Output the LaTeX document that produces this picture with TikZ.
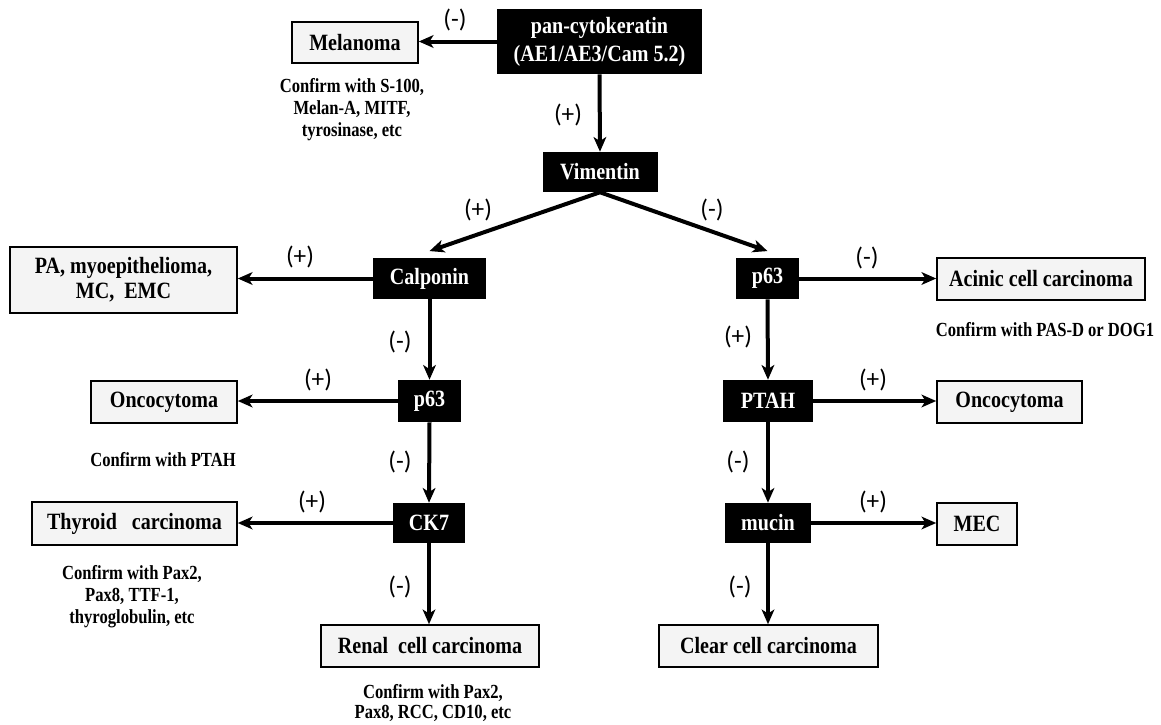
\documentclass[tikz,border=0pt]{standalone}
\usepackage{fontspec}
\setmainfont{Liberation Serif}
\newfontfamily\boxfont{Liberation Serif}[FakeStretch=0.86]
\newfontfamily\notefont{Liberation Serif}[FakeStretch=0.83]
\newfontfamily\signfont{Carlito}
\usetikzlibrary{arrows.meta}
\begin{document}
\begin{tikzpicture}[x=0.75pt,y=-0.75pt,
  sz/.style 2 args={minimum width=#1*0.75pt,minimum height=#2*0.75pt},
  blk/.style={fill=black,text=white,inner sep=0pt,align=center,
    font=\boxfont\bfseries\fontsize{17.5}{21}\selectfont},
  res/.style={draw=black,line width=1.2pt,fill=gray!9,inner sep=0pt,align=center,
    font=\boxfont\bfseries\fontsize{17.5}{19}\selectfont},
  note/.style={inner sep=0pt,align=center,
    font=\notefont\bfseries\fontsize{15}{16.5}\selectfont},
  sgn/.style={inner sep=0pt,font=\signfont\fontsize{19}{20}\selectfont},
  arr/.style={-{Stealth[length=11pt,width=9.5pt,inset=3pt]},line width=3pt}
]
\useasboundingbox (0,0) rectangle (1161,725);

% nodes
\node[blk,sz={205}{65}] (pck) at (599.5,41.5) {pan-cytokeratin\\(AE1/AE3/Cam 5.2)};
\node[res,sz={126}{41}] (mel) at (355,42.5) {Melanoma};
\node[note] (melc) at (352,110) {Confirm with S-100,\\Melan-A, MITF,\\tyrosinase, etc};
\node[blk,sz={115}{40}] (vim) at (600,172) {Vimentin};

\node[blk,sz={113}{41}] (cal) at (429.5,278.5) {Calponin};
\node[res,sz={227}{66}] (pa) at (123.5,280) {PA, myoepithelioma,\\MC,~ EMC};
\node[blk,sz={63}{42}] (p63l) at (429.5,401) {p63};
\node[res,sz={146}{42}] (oncl) at (164,402) {Oncocytoma};
\node[note] (onclc) at (163,460) {Confirm with PTAH};
\node[blk,sz={72}{40}] (ck7) at (429,523) {CK7};
\node[res,sz={205}{43}] (thy) at (134.5,523.5) {Thyroid~~ carcinoma};
\node[note] (thyc) at (132,597) {Confirm with Pax2,\\Pax8, TTF-1,\\thyroglobulin, etc};
\node[res,sz={218}{42}] (ren) at (430,646) {Renal~ cell carcinoma};
\node[note,font=\notefont\bfseries\fontsize{15}{15.5}\selectfont] (renc) at (433,703) {Confirm with Pax2,\\Pax8, RCC, CD10, etc};

\node[blk,sz={63}{41}] (p63r) at (767.5,278.5) {p63};
\node[res,sz={208}{42}] (aci) at (1041,279) {Acinic cell carcinoma};
\node[note] (acic) at (1045,330) {Confirm with PAS-D or DOG1};
\node[blk,sz={90}{42}] (ptah) at (768,401) {PTAH};
\node[res,sz={145}{42}] (oncr) at (1009.5,402) {Oncocytoma};
\node[blk,sz={86}{40}] (muc) at (768,523) {mucin};
\node[res,sz={80}{42}] (mec) at (977,524) {MEC};
\node[res,sz={219}{42}] (clr) at (768.5,646) {Clear cell carcinoma};

% sign labels
\node[sgn] (s1) at (455,20) {(-)};
\node[sgn] (s2) at (568,115) {(+)};
\node[sgn] (s3) at (478,210) {(+)};
\node[sgn] (s4) at (712,210) {(-)};
\node[sgn] (s5) at (300,257) {(+)};
\node[sgn] (s6) at (400,342) {(-)};
\node[sgn] (s7) at (318,380) {(+)};
\node[sgn] (s8) at (400,462) {(-)};
\node[sgn] (s9) at (312,502) {(+)};
\node[sgn] (s10) at (400,587) {(-)};
\node[sgn] (s11) at (867,258) {(-)};
\node[sgn] (s12) at (738,337) {(+)};
\node[sgn] (s13) at (873,380) {(+)};
\node[sgn] (s14) at (738,462) {(-)};
\node[sgn] (s15) at (873,502) {(+)};
\node[sgn] (s16) at (740,587) {(-)};

% connectors
\draw[arr] (pck.west) -- (pck.west -| mel.east);
\draw[arr] (pck.south) -- (vim.north);
\draw[arr] (vim.south) -- ([yshift=5pt]cal.north);
\draw[arr] (vim.south) -- ([yshift=5pt]p63r.north);
\draw[arr] (cal.west) -- (cal.west -| pa.east);
\draw[arr] (cal.south) -- (p63l.north);
\draw[arr] (p63l.west) -- (p63l.west -| oncl.east);
\draw[arr] (p63l.south) -- (ck7.north);
\draw[arr] (ck7.west) -- (ck7.west -| thy.east);
\draw[arr] (ck7.south) -- (ck7.south |- ren.north);
\draw[arr] (p63r.east) -- (p63r.east -| aci.west);
\draw[arr] (p63r.south) -- (ptah.north);
\draw[arr] (ptah.east) -- (ptah.east -| oncr.west);
\draw[arr] (ptah.south) -- (muc.north);
\draw[arr] (muc.east) -- (muc.east -| mec.west);
\draw[arr] (muc.south) -- (muc.south |- clr.north);
\end{tikzpicture}
\end{document}
